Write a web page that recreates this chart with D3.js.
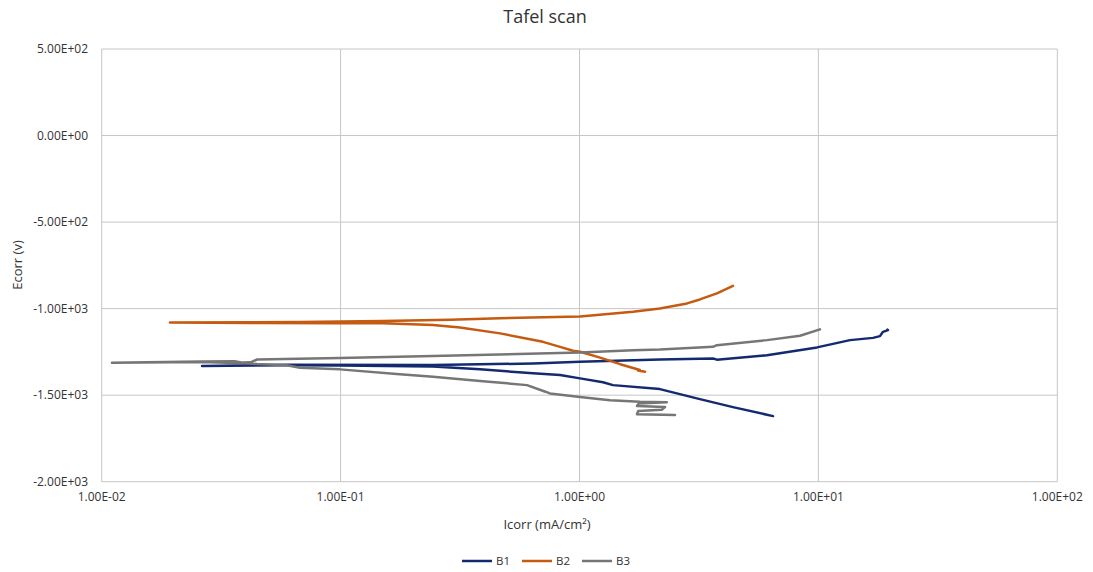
<!DOCTYPE html>
<html>
<head>
<meta charset="utf-8">
<title>Tafel scan</title>
<script src="https://cdn.jsdelivr.net/npm/d3@7/dist/d3.min.js"></script>
<style>
  html, body { margin: 0; padding: 0; background: #ffffff; }
  svg { display: block; }
  text { font-family: "Open Sans", "Noto Sans", sans-serif; fill: #333333; }
</style>
</head>
<body>
<svg id="chart" width="1093" height="572"></svg>
<script>
// Series names and legend colours
const seriesNames = ["B1", "B2", "B3"];
const seriesColors = ["#142a6e", "#c55a11", "#767676"];

// Axis ticks
const xTicks = [0.01, 0.1, 1, 10, 100];
const yTicks = [500, 0, -500, -1000, -1500, -2000];

// B1: current density (mA/cm²) and potential, cathodic end -> Ecorr -> anodic end
const b1Current = [6.46, 4.39, 3.19, 2.17, 1.381, 1.254, 1.005, 0.829, 0.639, 0.383, 0.2436, 0.0994, 0.0596, 0.0263,
                   0.0596, 0.2436, 0.639, 1.005, 2.17, 3.62, 3.76, 6.09, 9.87, 13.56, 16.93, 18.1, 18.64, 19.56, 19.45];
const b1Potential = [-1621, -1569, -1523, -1465, -1442, -1425, -1403, -1384, -1374, -1350, -1335, -1329, -1327, -1331,
                     -1324, -1326, -1317, -1307, -1294, -1288, -1295, -1269, -1224, -1182, -1169, -1159, -1134, -1124, -1121];

// B2
const b2Current = [1.88, 1.758, 1.79, 1.48, 1.22, 1.005, 0.94, 0.829, 0.703, 0.465, 0.316, 0.2436, 0.1505, 0.0994, 0.0418, 0.0193,
                   0.0676, 0.1505, 0.287, 0.465, 1.005, 1.675, 2.17, 2.82, 3.19, 3.76, 4.39];
const b2Potential = [-1365, -1358, -1355, -1321, -1283, -1249, -1243, -1221, -1192, -1143, -1109, -1095, -1084, -1085, -1083, -1080,
                     -1078, -1072, -1064, -1055, -1046, -1018, -999, -970, -947, -912, -868];

// B3
const b3Current = [2.51, 1.74, 1.76, 2.21, 2.28, 1.74, 1.77, 2.32, 1.79, 1.342, 1.005, 0.752, 0.72, 0.603, 0.394, 0.2436, 0.177,
                   0.0994, 0.0676, 0.0596, 0.0447, 0.04, 0.0258, 0.01104,
                   0.0258, 0.036, 0.039, 0.042, 0.0447, 0.0994, 0.2436, 1.005, 1.675, 2.17, 3.62, 3.76, 6.09, 8.38, 10.15];
const b3Potential = [-1615, -1610, -1592, -1584, -1568, -1562, -1548, -1541, -1538, -1529, -1510, -1490, -1480, -1442, -1419, -1394, -1379,
                     -1351, -1342, -1327, -1320, -1315, -1309, -1313,
                     -1306, -1304, -1312, -1310, -1294, -1286, -1274, -1254, -1240, -1236, -1221, -1211, -1182, -1157, -1120];

const series = [
  { name: seriesNames[0], color: seriesColors[0], x: b1Current, y: b1Potential },
  { name: seriesNames[1], color: seriesColors[1], x: b2Current, y: b2Potential },
  { name: seriesNames[2], color: seriesColors[2], x: b3Current, y: b3Potential }
];

// Excel-style scientific labels, e.g. 5.00E+02, 1.00E-02
function sci(v) {
  const s = v.toExponential(2);
  const [m, e] = s.split("e");
  const sign = e[0] === "-" ? "-" : "+";
  const digits = e.replace(/[+-]/, "").padStart(2, "0");
  return m + "E" + sign + digits;
}

const svg = d3.select("#chart");
const plot = { left: 101.7, right: 1057.3, top: 49, bottom: 481.7 };

const x = d3.scaleLog().domain([0.01, 100]).range([plot.left, plot.right]);
const y = d3.scaleLinear().domain([-2000, 500]).range([plot.bottom, plot.top]);

const gridColor = "#c6c6c6";

// Horizontal gridlines
svg.append("g")
  .selectAll("line")
  .data(yTicks)
  .join("line")
  .attr("x1", plot.left).attr("x2", plot.right)
  .attr("y1", d => y(d)).attr("y2", d => y(d))
  .attr("stroke", gridColor).attr("stroke-width", 1);

// Vertical gridlines
svg.append("g")
  .selectAll("line")
  .data(xTicks)
  .join("line")
  .attr("x1", d => x(d)).attr("x2", d => x(d))
  .attr("y1", plot.top).attr("y2", plot.bottom)
  .attr("stroke", gridColor).attr("stroke-width", 1);

// Y tick labels
svg.append("g")
  .selectAll("text")
  .data(yTicks)
  .join("text")
  .attr("x", 88)
  .attr("y", d => y(d))
  .attr("dy", "0.35em")
  .attr("text-anchor", "end")
  .attr("font-size", 12)
  .text(d => sci(d));

// X tick labels
svg.append("g")
  .selectAll("text")
  .data(xTicks)
  .join("text")
  .attr("x", d => x(d))
  .attr("y", 497)
  .attr("dy", "0.35em")
  .attr("text-anchor", "middle")
  .attr("font-size", 12)
  .text(d => sci(d));

// Series lines
const line = d3.line()
  .x(d => x(d[0]))
  .y(d => y(d[1]));

svg.append("g")
  .selectAll("path")
  .data(series)
  .join("path")
  .attr("d", s => line(d3.zip(s.x, s.y)))
  .attr("fill", "none")
  .attr("stroke", s => s.color)
  .attr("stroke-width", 2.5)
  .attr("stroke-linejoin", "round")
  .attr("stroke-linecap", "round");

// Title
svg.append("text")
  .attr("x", 545).attr("y", 17)
  .attr("dy", "0.35em")
  .attr("text-anchor", "middle")
  .attr("font-size", 18)
  .attr("fill", "#262626")
  .text("Tafel scan");

// Axis titles
svg.append("text")
  .attr("x", 547).attr("y", 524)
  .attr("dy", "0.35em")
  .attr("text-anchor", "middle")
  .attr("font-size", 13)
  .text("Icorr (mA/cm²)");

svg.append("text")
  .attr("transform", "translate(17,265) rotate(-90)")
  .attr("dy", "0.35em")
  .attr("text-anchor", "middle")
  .attr("font-size", 13)
  .text("Ecorr (v)");

// Legend
const legendX = [462, 522, 582];
const legend = svg.append("g")
  .selectAll("g")
  .data(series)
  .join("g")
  .attr("transform", (d, i) => `translate(${legendX[i]},561)`);
legend.append("line")
  .attr("x1", 0).attr("x2", 30)
  .attr("stroke", d => d.color)
  .attr("stroke-width", 2.5);
legend.append("text")
  .attr("x", 34).attr("dy", "0.35em")
  .attr("font-size", 11.5)
  .text(d => d.name);
</script>
</body>
</html>
